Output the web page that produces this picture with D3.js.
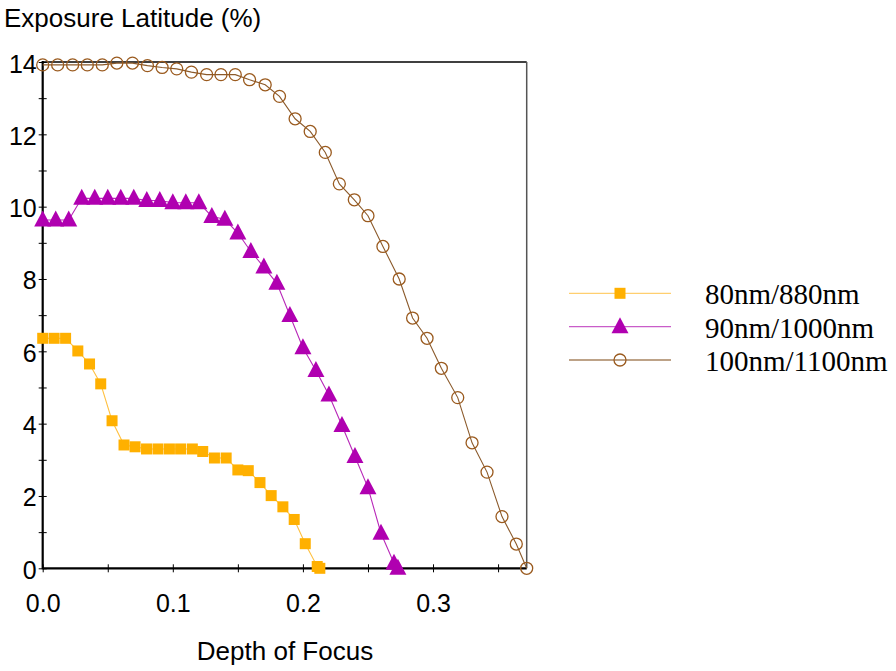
<!DOCTYPE html>
<html>
<head>
<meta charset="utf-8">
<script src="https://cdn.jsdelivr.net/npm/d3@7"></script>
<style>
body { margin: 0; background: #fff; }
svg { display: block; }
</style>
</head>
<body>
<svg width="896" height="671"></svg>
<script>
// data
var seriesNames = ["80nm/880nm", "90nm/1000nm", "100nm/1100nm"];

var x80 = [0, 0.0088, 0.0176, 0.027, 0.036, 0.0446, 0.0533, 0.0625, 0.071, 0.0798, 0.0886, 0.0974, 0.106, 0.115, 0.123, 0.132, 0.141, 0.150, 0.158, 0.167, 0.1756, 0.1846, 0.1933, 0.2018, 0.211, 0.213];
var y80 = [6.36, 6.36, 6.36, 6.01, 5.65, 5.1, 4.08, 3.41, 3.36, 3.3, 3.3, 3.3, 3.3, 3.3, 3.23, 3.05, 3.05, 2.72, 2.70, 2.37, 2.01, 1.70, 1.35, 0.68, 0.05, 0];

var x90 = [0, 0.01, 0.02, 0.03, 0.04, 0.05, 0.06, 0.07, 0.08, 0.09, 0.10, 0.11, 0.12, 0.13, 0.14, 0.15, 0.16, 0.17, 0.18, 0.19, 0.20, 0.21, 0.22, 0.23, 0.24, 0.25, 0.26, 0.27, 0.273];
var y90 = [9.63, 9.63, 9.63, 10.23, 10.23, 10.23, 10.23, 10.23, 10.17, 10.17, 10.11, 10.11, 10.11, 9.73, 9.65, 9.27, 8.76, 8.33, 7.88, 6.99, 6.10, 5.47, 4.79, 3.95, 3.09, 2.23, 0.97, 0.14, 0];

var x100 = [0, 0.0115, 0.023, 0.0343, 0.0458, 0.057, 0.069, 0.0805, 0.0918, 0.103, 0.1143, 0.126, 0.137, 0.148, 0.159, 0.171, 0.182, 0.194, 0.2056, 0.2172, 0.228, 0.2395, 0.250, 0.2615, 0.274, 0.2843, 0.2954, 0.3064, 0.319, 0.330, 0.3415, 0.353, 0.364, 0.372];
var y100 = [13.92, 13.92, 13.92, 13.92, 13.92, 13.97, 13.97, 13.9, 13.85, 13.81, 13.72, 13.65, 13.65, 13.65, 13.51, 13.37, 13.05, 12.43, 12.08, 11.50, 10.63, 10.19, 9.75, 8.90, 8.0, 6.92, 6.36, 5.53, 4.72, 3.47, 2.66, 1.43, 0.67, 0];

var xTicks = [0, 0.05, 0.1, 0.15, 0.2, 0.25, 0.3, 0.35];
var xLabels = [0, 0.1, 0.2, 0.3];
var yTicks = [0, 1, 2, 3, 4, 5, 6, 7, 8, 9, 10, 11, 12, 13, 14];

var plotL = 42.7, plotR = 526.7, plotT = 62, plotB = 568.3;
var sans = "Liberation Sans, Arial, sans-serif";

var svg = d3.select("svg");

var x = d3.scaleLinear().domain([0, 0.372]).range([plotL, plotR]);
var y = d3.scaleLinear().domain([0, 14]).range([plotB, plotT]);

var series = [
    {name: seriesNames[0], xs: x80, ys: y80, color: "#ffb000", line: "#ffc040", shape: "square"},
    {name: seriesNames[1], xs: x90, ys: y90, color: "#b000b0", line: "#b828b8", shape: "triangle"},
    {name: seriesNames[2], xs: x100, ys: y100, color: "#9a5a1e", line: "#8b5a2b", shape: "circle"}
];

// frame (top + right)
svg.append("line").attr("x1", plotL).attr("x2", plotR).attr("y1", plotT).attr("y2", plotT)
    .attr("stroke", "#000").attr("stroke-width", 1.5);
svg.append("line").attr("x1", plotR).attr("x2", plotR).attr("y1", plotT).attr("y2", plotB)
    .attr("stroke", "#555").attr("stroke-width", 1.5);

// axes
var xAxis = d3.axisBottom(x)
    .tickValues(xTicks)
    .tickFormat(function(d) { return xLabels.indexOf(d) >= 0 ? d3.format(".1f")(d) : ""; })
    .tickSize(4).tickPadding(22);
var gx = svg.append("g").attr("transform", "translate(0," + plotB + ")").call(xAxis);
gx.select(".domain").remove();
gx.selectAll(".tick line").attr("y1", -4).attr("stroke", "#000").attr("stroke-width", 1);
gx.selectAll("text").attr("font-family", sans).attr("font-size", 25).attr("fill", "#000");

var yAxis = d3.axisLeft(y)
    .tickValues(yTicks)
    .tickFormat(function(d) { return d % 2 == 0 ? d : ""; })
    .tickSize(4).tickPadding(2);
var gy = svg.append("g").attr("transform", "translate(" + plotL + ",0)").call(yAxis);
gy.select(".domain").remove();
gy.selectAll(".tick line").attr("x1", 4).attr("stroke", "#000").attr("stroke-width", 1);
gy.selectAll("text").attr("font-family", sans).attr("font-size", 25).attr("fill", "#000").attr("dy", "0.4em");

svg.append("line").attr("x1", plotL).attr("x2", plotR).attr("y1", plotB).attr("y2", plotB)
    .attr("stroke", "#000").attr("stroke-width", 2.2);
svg.append("line").attr("x1", plotL).attr("x2", plotL).attr("y1", plotT - 1).attr("y2", plotB + 1)
    .attr("stroke", "#000").attr("stroke-width", 2.2);

// axis titles
svg.append("text").attr("x", 4).attr("y", 27)
    .attr("font-family", sans).attr("font-size", 26)
    .text("Exposure Latitude (%)");
svg.append("text").attr("x", 285).attr("y", 660).attr("text-anchor", "middle")
    .attr("font-family", sans).attr("font-size", 26)
    .text("Depth of Focus");

function drawMarker(g, s, cx, cy) {
    if (s.shape == "square") {
        g.append("rect").attr("x", cx - 5.5).attr("y", cy - 5.5)
            .attr("width", 11).attr("height", 11).attr("fill", s.color);
    } else if (s.shape == "triangle") {
        g.append("path")
            .attr("d", "M" + cx + "," + (cy - 9.5) + "L" + (cx + 8.5) + "," + (cy + 6.5) + "L" + (cx - 8.5) + "," + (cy + 6.5) + "Z")
            .attr("fill", s.color);
    } else {
        g.append("circle").attr("cx", cx).attr("cy", cy).attr("r", 6)
            .attr("fill", "none").attr("stroke", s.color).attr("stroke-width", 1.3);
    }
}

var line = d3.line().x(function(d) { return x(d[0]); }).y(function(d) { return y(d[1]); });

series.forEach(function(s) {
    var pts = d3.zip(s.xs, s.ys);
    svg.append("path").datum(pts).attr("d", line)
        .attr("fill", "none").attr("stroke", s.line).attr("stroke-width", 1.1);
    var g = svg.append("g");
    pts.forEach(function(p) { drawMarker(g, s, x(p[0]), y(p[1])); });
});

// legend
var legendY = [293.3, 326.7, 360];
series.forEach(function(s, i) {
    var g = svg.append("g");
    g.append("line").attr("x1", 569).attr("x2", 671).attr("y1", legendY[i]).attr("y2", legendY[i])
        .attr("stroke", s.line).attr("stroke-width", 1.3).attr("opacity", 0.75);
    drawMarker(g, s, 620, legendY[i]);
    g.append("text").attr("x", 705).attr("y", legendY[i] + 11)
        .attr("font-family", "Liberation Serif, Times New Roman, serif").attr("font-size", 29)
        .text(s.name);
});
</script>
</body>
</html>
